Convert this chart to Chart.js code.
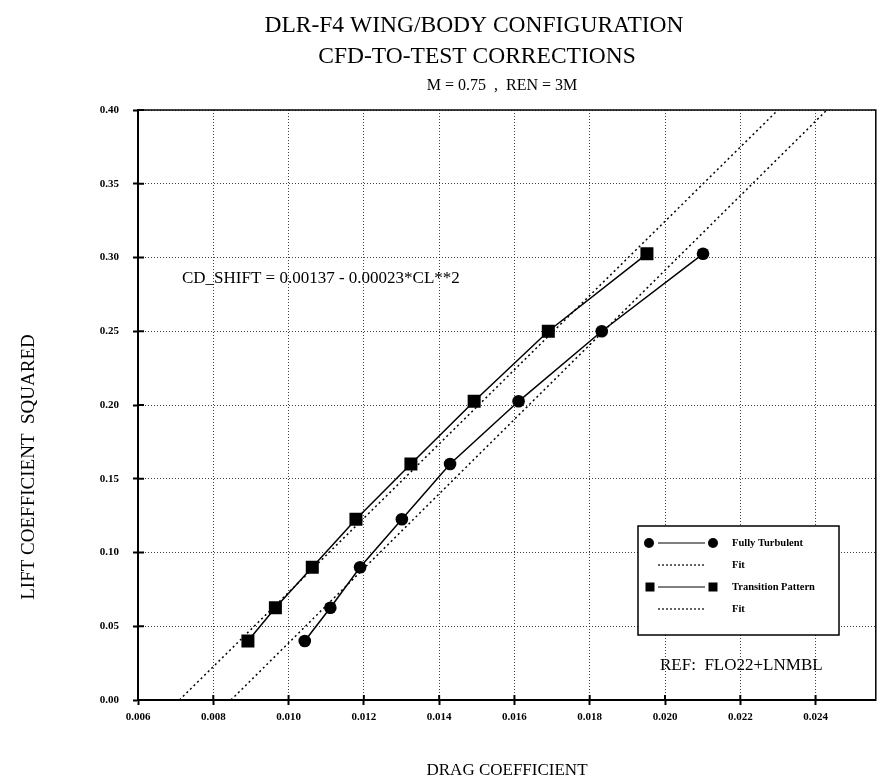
<!DOCTYPE html>
<html lang="en">
<head>
<meta charset="UTF-8">
<meta name="viewport" content="width=device-width, initial-scale=1.0">
<title>DLR-F4 CFD-to-test corrections</title>
<script src="https://cdn.jsdelivr.net/npm/chart.js@4.4.0/dist/chart.umd.min.js"></script>
<style>
    body { margin: 0; background: #fff; }
    #wrap { width: 885px; height: 784px; position: relative; }
</style>
</head>
<body>
<div id="wrap"><canvas id="myChart"></canvas></div>
<script>
    // lift coefficient squared for each run point (CL = 0.20 ... 0.55)
    const clSquared = [0.04, 0.0625, 0.09, 0.1225, 0.16, 0.2025, 0.25, 0.3025];
    // drag coefficient
    const cdTurbulent = [0.01043, 0.01111, 0.01190, 0.01301, 0.01429, 0.01611, 0.01832, 0.02101];
    const cdTransition = [0.00892, 0.00965, 0.01063, 0.01179, 0.01325, 0.01493, 0.01690, 0.01952];
    // straight-line fits, end points at CL^2 = 0 and 0.40
    const fitCL2 = [0.0, 0.40];
    const fitTurbulent = [0.00847, 0.02430];
    const fitTransition = [0.00710, 0.02300];
    // tick labels
    const xTicks = [0.006, 0.008, 0.010, 0.012, 0.014, 0.016, 0.018, 0.020, 0.022, 0.024];
    const yTicks = [0.00, 0.05, 0.10, 0.15, 0.20, 0.25, 0.30, 0.35, 0.40];

    const titleLines = ['DLR-F4 WING/BODY CONFIGURATION', 'CFD-TO-TEST CORRECTIONS', 'M = 0.75  ,  REN = 3M'];
    const noteText = 'CD_SHIFT = 0.00137 - 0.00023*CL**2';
    const refText = 'REF:  FLO22+LNMBL';
    const legendLabels = ['Fully Turbulent', 'Fit', 'Transition Pattern', 'Fit'];

    const serif = '"Liberation Serif", "Times New Roman", serif';
    Chart.defaults.font.family = serif;
    Chart.defaults.color = '#000';

    function pts(xs, ys) {
        return xs.map((x, i) => ({ x: x, y: ys[i] }));
    }

    // titles, notes, frame and the boxed legend
    const paperText = {
        id: 'paperText',
        afterDraw(chart) {
            const ctx = chart.ctx;
            const a = chart.chartArea;
            const sx = chart.scales.x, sy = chart.scales.y;
            ctx.save();
            ctx.strokeStyle = '#000';
            ctx.lineWidth = 1.5;
            ctx.strokeRect(a.left, a.top, a.right - a.left, a.bottom - a.top);

            // tick marks reaching inside the frame
            ctx.lineWidth = 2;
            xTicks.forEach(v => {
                const p = sx.getPixelForValue(v);
                ctx.beginPath(); ctx.moveTo(p, a.bottom); ctx.lineTo(p, a.bottom - 5); ctx.stroke();
            });
            yTicks.forEach(v => {
                const p = sy.getPixelForValue(v);
                ctx.beginPath(); ctx.moveTo(a.left, p); ctx.lineTo(a.left + 6, p); ctx.stroke();
            });

            ctx.fillStyle = '#000';
            ctx.textAlign = 'center';
            ctx.textBaseline = 'alphabetic';
            ctx.font = '23.5px ' + serif;
            ctx.fillText(titleLines[0], 474, 32);
            ctx.fillText(titleLines[1], 477, 63);
            ctx.font = '16px ' + serif;
            ctx.fillText(titleLines[2], 502, 90);

            ctx.font = '17px ' + serif;
            ctx.fillText('DRAG COEFFICIENT', 507, 775);
            ctx.save();
            ctx.translate(34, 467);
            ctx.rotate(-Math.PI / 2);
            ctx.font = '19px ' + serif;
            ctx.fillText('LIFT COEFFICIENT  SQUARED', 0, 0);
            ctx.restore();

            ctx.textAlign = 'left';
            ctx.font = '17px ' + serif;
            ctx.fillText(noteText, 182, 283);
            ctx.fillText(refText, 660, 670);

            // legend box
            const bx = 638, by = 526, bw = 201, bh = 109;
            ctx.fillStyle = '#fff';
            ctx.fillRect(bx, by, bw, bh);
            ctx.lineWidth = 1.5;
            ctx.strokeRect(bx, by, bw, bh);
            ctx.fillStyle = '#000';
            const rows = [543, 565, 587, 609];
            rows.forEach((ry, i) => {
                ctx.lineWidth = 1.2;
                ctx.setLineDash(i % 2 ? [2, 2] : []);
                ctx.beginPath(); ctx.moveTo(658, ry); ctx.lineTo(705, ry); ctx.stroke();
                ctx.setLineDash([]);
                if (i === 0) {
                    [649, 713].forEach(cx => { ctx.beginPath(); ctx.arc(cx, ry, 5, 0, Math.PI * 2); ctx.fill(); });
                } else if (i === 2) {
                    [650, 713].forEach(cx => ctx.fillRect(cx - 4.5, ry - 4.5, 9, 9));
                }
                ctx.font = 'bold 10.5px ' + serif;
                ctx.textBaseline = 'middle';
                ctx.fillText(legendLabels[i], 732, ry);
            });
            ctx.restore();
        }
    };

    const gridStyle = { color: 'rgba(0,0,0,0.75)', lineWidth: 1, tickLength: 5, tickColor: '#000', tickWidth: 2 };
    const borderStyle = { color: '#000', width: 2, dash: [1, 2] };

    new Chart(document.getElementById('myChart'), {
        type: 'scatter',
        data: {
            datasets: [
                {
                    label: 'Fully Turbulent',
                    data: pts(cdTurbulent, clSquared),
                    showLine: true,
                    borderColor: '#000',
                    borderWidth: 1.5,
                    pointStyle: 'circle',
                    pointRadius: 6.3,
                    pointBackgroundColor: '#000',
                    pointBorderWidth: 0
                },
                {
                    label: 'Fit',
                    data: pts(fitTurbulent, fitCL2),
                    showLine: true,
                    borderColor: '#000',
                    borderWidth: 1.5,
                    borderDash: [2, 3],
                    pointRadius: 0
                },
                {
                    label: 'Transition Pattern',
                    data: pts(cdTransition, clSquared),
                    showLine: true,
                    borderColor: '#000',
                    borderWidth: 1.5,
                    pointStyle: 'rect',
                    pointRadius: 9.2,
                    pointBackgroundColor: '#000',
                    pointBorderWidth: 0
                },
                {
                    label: 'Fit',
                    data: pts(fitTransition, fitCL2),
                    showLine: true,
                    borderColor: '#000',
                    borderWidth: 1.5,
                    borderDash: [2, 3],
                    pointRadius: 0
                }
            ]
        },
        options: {
            responsive: true,
            maintainAspectRatio: false,
            animation: false,
            layout: { padding: { top: 110, right: 5, left: 0, bottom: 0 } },
            plugins: {
                legend: { display: false },
                tooltip: { enabled: false }
            },
            scales: {
                x: {
                    type: 'linear',
                    min: 0.006,
                    max: 0.0256,
                    afterBuildTicks: s => { s.ticks = xTicks.map(v => ({ value: v })); },
                    afterFit: s => { s.height = 84; },
                    grid: gridStyle,
                    border: borderStyle,
                    ticks: {
                        padding: 6,
                        maxRotation: 0,
                        font: { size: 11, weight: 'bold' },
                        callback: v => v.toFixed(3)
                    }
                },
                y: {
                    type: 'linear',
                    min: 0,
                    max: 0.40,
                    afterBuildTicks: s => { s.ticks = yTicks.map(v => ({ value: v })); },
                    afterFit: s => { s.width = 138; },
                    grid: gridStyle,
                    border: borderStyle,
                    ticks: {
                        padding: 14,
                        font: { size: 11, weight: 'bold' },
                        callback: v => v.toFixed(2)
                    }
                }
            }
        },
        plugins: [paperText]
    });
</script>
</body>
</html>
